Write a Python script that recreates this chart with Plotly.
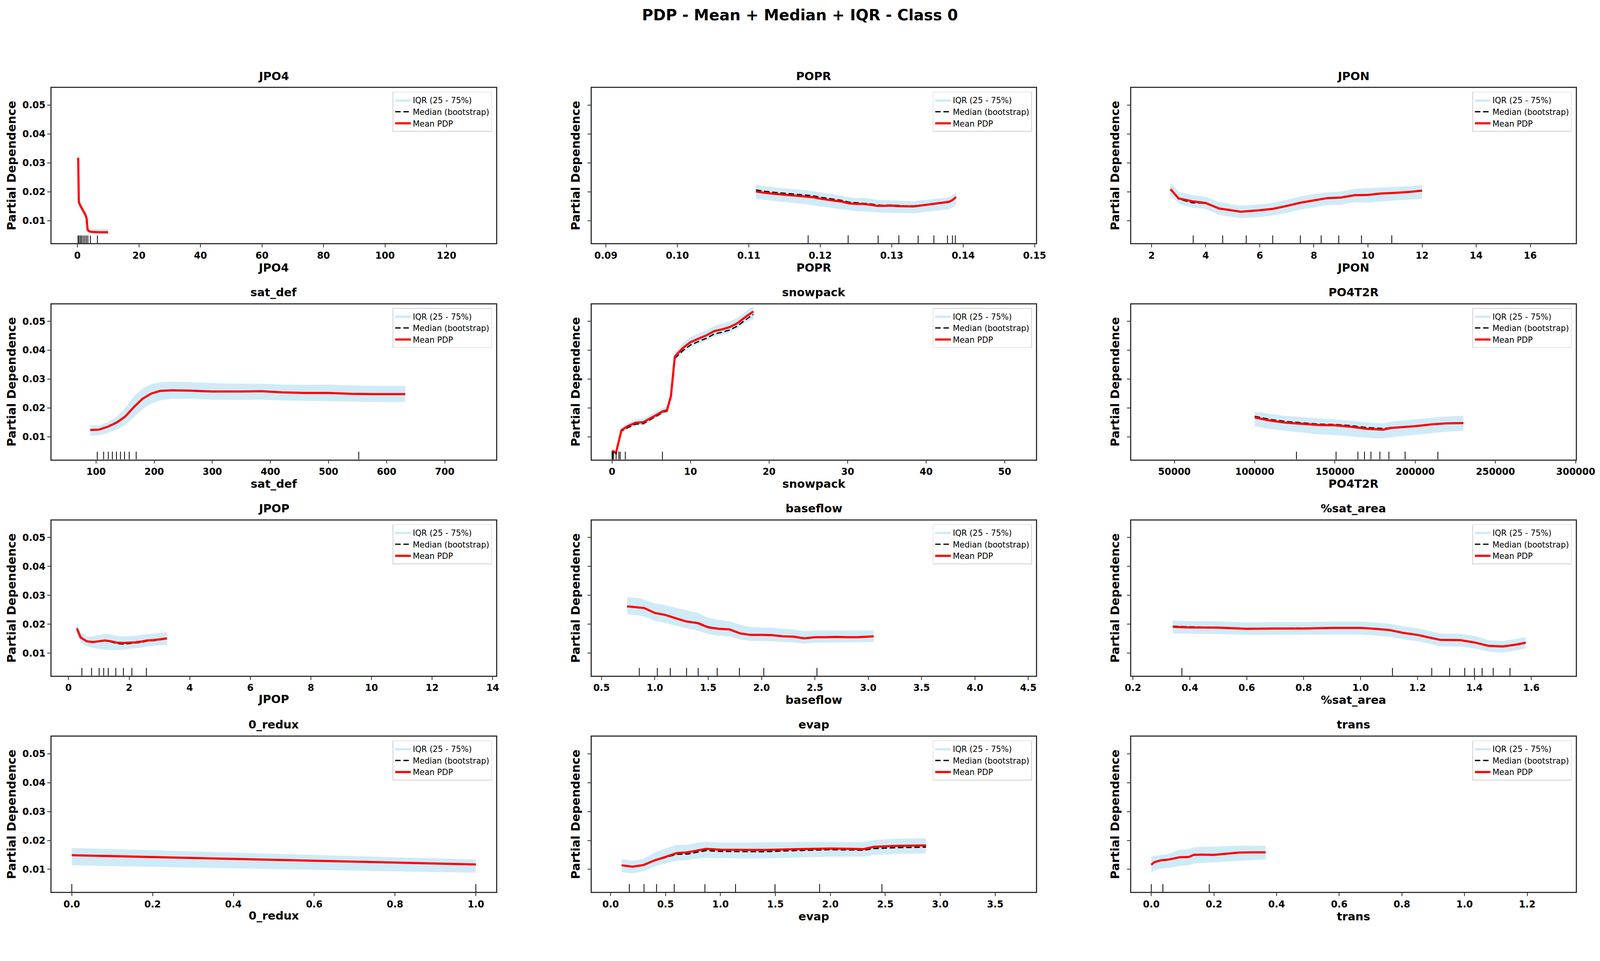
import plotly.graph_objects as go

W, H = 4219, 2459

# ---------------- data ----------------
FEATURES = ["JPO4", "POPR", "JPON", "sat_def", "snowpack", "PO4T2R",
            "JPOP", "baseflow", "%sat_area", "0_redux", "evap", "trans"]

JPO4_x = [0.25, 0.45, 0.8, 1.3, 1.8, 2.3, 2.7, 3.0, 3.3, 3.7, 4.2, 5, 6, 7, 8, 9, 10]
JPO4_mean = [0.0318, 0.0167, 0.0155, 0.0146, 0.0137, 0.0127, 0.0118, 0.0107, 0.0069, 0.0064, 0.0062, 0.0061, 0.0060, 0.0060, 0.0060, 0.0060, 0.0060]
JPO4_median = [0.0316, 0.0166, 0.0154, 0.0145, 0.0136, 0.0126, 0.0117, 0.0106, 0.0068, 0.0063, 0.0061, 0.0060, 0.0060, 0.0060, 0.0060, 0.0060, 0.0060]
JPO4_q75 = [0.0345, 0.0180, 0.0165, 0.0155, 0.0146, 0.0136, 0.0127, 0.0116, 0.0077, 0.0073, 0.0072, 0.0071, 0.0071, 0.0071, 0.0071, 0.0071, 0.0071]
JPO4_q25 = [0.0300, 0.0155, 0.0145, 0.0136, 0.0127, 0.0117, 0.0108, 0.0097, 0.0060, 0.0055, 0.0053, 0.0052, 0.0052, 0.0052, 0.0052, 0.0052, 0.0052]
JPO4_rug = [0.2, 0.55, 1.0, 1.4, 1.9, 2.4, 2.9, 3.4, 4.2, 6.5]

POPR_x = [0.111, 0.112, 0.1135, 0.115, 0.1165, 0.118, 0.119, 0.120, 0.121, 0.122, 0.123, 0.124, 0.125, 0.126, 0.127, 0.128, 0.129, 0.130, 0.131, 0.132, 0.133, 0.134, 0.135, 0.136, 0.137, 0.138, 0.1385, 0.139]
POPR_mean = [0.0201, 0.0197, 0.0193, 0.0190, 0.0187, 0.0184, 0.0181, 0.0176, 0.0172, 0.0169, 0.0166, 0.0160, 0.0158, 0.0158, 0.0155, 0.0151, 0.0151, 0.0152, 0.0150, 0.0149, 0.0149, 0.0152, 0.0155, 0.0159, 0.0162, 0.0165, 0.0171, 0.0182]
POPR_median = [0.0206, 0.0202, 0.0198, 0.0195, 0.0192, 0.0189, 0.0186, 0.0181, 0.0177, 0.0174, 0.0170, 0.0164, 0.0162, 0.0161, 0.0158, 0.0154, 0.0153, 0.0154, 0.0152, 0.0151, 0.0151, 0.0153, 0.0156, 0.0160, 0.0163, 0.0166, 0.0172, 0.0182]
POPR_q75 = [0.0225, 0.0220, 0.0215, 0.0212, 0.0209, 0.0205, 0.0202, 0.0198, 0.0194, 0.0191, 0.0186, 0.0181, 0.0178, 0.0179, 0.0176, 0.0172, 0.0171, 0.0170, 0.0168, 0.0167, 0.0167, 0.0170, 0.0173, 0.0176, 0.0178, 0.0180, 0.0188, 0.0200]
POPR_q25 = [0.0176, 0.0172, 0.0168, 0.0164, 0.0160, 0.0157, 0.0153, 0.0150, 0.0146, 0.0142, 0.0139, 0.0135, 0.0133, 0.0132, 0.0130, 0.0128, 0.0127, 0.0127, 0.0126, 0.0125, 0.0125, 0.0128, 0.0131, 0.0134, 0.0137, 0.0139, 0.0145, 0.0155]
POPR_rug = [0.1183, 0.1239, 0.1281, 0.1310, 0.1337, 0.1359, 0.1378, 0.1385, 0.1389]

JPON_x = [2.7, 3.0, 3.5, 4.0, 4.5, 5.0, 5.3, 6.0, 6.5, 7.0, 7.5, 8.0, 8.5, 9.0, 9.5, 10.0, 10.5, 11.0, 11.5, 12.0]
JPON_mean = [0.0209, 0.0177, 0.0167, 0.0161, 0.0142, 0.0135, 0.0131, 0.0136, 0.0141, 0.0151, 0.0162, 0.0170, 0.0178, 0.0180, 0.0188, 0.0189, 0.0194, 0.0196, 0.0199, 0.0204]
JPON_median = [0.0209, 0.0175, 0.0162, 0.0160, 0.0142, 0.0135, 0.0131, 0.0136, 0.0141, 0.0151, 0.0162, 0.0170, 0.0178, 0.0180, 0.0188, 0.0189, 0.0194, 0.0196, 0.0199, 0.0204]
JPON_q75 = [0.0232, 0.0200, 0.0188, 0.0183, 0.0165, 0.0156, 0.0152, 0.0156, 0.0162, 0.0172, 0.0184, 0.0192, 0.0198, 0.0201, 0.0210, 0.0212, 0.0214, 0.0216, 0.0219, 0.0224]
JPON_q25 = [0.0189, 0.0158, 0.0145, 0.0140, 0.0120, 0.0112, 0.0109, 0.0112, 0.0118, 0.0127, 0.0138, 0.0146, 0.0154, 0.0155, 0.0163, 0.0162, 0.0166, 0.0170, 0.0172, 0.0176]
JPON_rug = [3.54, 4.63, 5.50, 6.48, 7.50, 8.27, 8.92, 9.76, 10.88]

sat_def_x = [90, 105, 120, 135, 150, 165, 180, 195, 210, 230, 260, 300, 350, 385, 420, 460, 500, 540, 580, 632]
sat_def_mean = [0.0124, 0.0125, 0.0135, 0.0149, 0.0170, 0.0203, 0.0232, 0.0250, 0.0259, 0.0261, 0.0260, 0.0257, 0.0257, 0.0258, 0.0254, 0.0252, 0.0252, 0.0249, 0.0248, 0.0248]
sat_def_median = [0.0124, 0.0126, 0.0136, 0.0151, 0.0171, 0.0203, 0.0232, 0.0250, 0.0259, 0.0261, 0.0260, 0.0257, 0.0257, 0.0258, 0.0254, 0.0252, 0.0252, 0.0249, 0.0248, 0.0248]
sat_def_q75 = [0.0140, 0.0140, 0.0150, 0.0168, 0.0200, 0.0240, 0.0268, 0.0282, 0.0289, 0.0291, 0.0290, 0.0286, 0.0284, 0.0284, 0.0281, 0.0280, 0.0281, 0.0278, 0.0277, 0.0277]
sat_def_q25 = [0.0104, 0.0106, 0.0113, 0.0125, 0.0140, 0.0168, 0.0196, 0.0215, 0.0226, 0.0232, 0.0232, 0.0229, 0.0228, 0.0229, 0.0226, 0.0225, 0.0224, 0.0222, 0.0221, 0.0221]
sat_def_rug = [102, 113, 121, 128, 135, 142, 149, 157, 169, 552]

snowpack_x = [0.0, 0.5, 1.2, 2.0, 3.0, 4.0, 5.0, 6.0, 6.5, 7.0, 7.5, 8.0, 9.0, 10.0, 11.0, 12.0, 13.0, 14.0, 15.0, 16.0, 17.0, 18.0]
snowpack_mean = [0.0052, 0.0044, 0.0123, 0.0137, 0.0149, 0.0151, 0.0166, 0.0180, 0.0189, 0.0192, 0.0241, 0.0378, 0.0407, 0.0428, 0.0440, 0.0451, 0.0466, 0.0472, 0.0480, 0.0494, 0.0515, 0.0534]
snowpack_median = [0.0050, 0.0043, 0.0120, 0.0132, 0.0144, 0.0146, 0.0162, 0.0177, 0.0186, 0.0189, 0.0238, 0.0372, 0.0398, 0.0418, 0.0430, 0.0441, 0.0456, 0.0462, 0.0470, 0.0484, 0.0505, 0.0524]
snowpack_q75 = [0.0060, 0.0052, 0.0133, 0.0148, 0.0160, 0.0163, 0.0178, 0.0193, 0.0201, 0.0205, 0.0255, 0.0393, 0.0424, 0.0446, 0.0458, 0.0469, 0.0484, 0.0491, 0.0499, 0.0513, 0.0534, 0.0552]
snowpack_q25 = [0.0045, 0.0037, 0.0113, 0.0126, 0.0138, 0.0140, 0.0155, 0.0168, 0.0177, 0.0180, 0.0227, 0.0362, 0.0390, 0.0410, 0.0421, 0.0432, 0.0446, 0.0452, 0.0460, 0.0474, 0.0496, 0.0506]
snowpack_rug = [0.0, 0.1, 0.17, 0.52, 0.87, 1.04, 1.69, 6.42]

PO4T2R_x = [100000, 110000, 120000, 130000, 140000, 150000, 160000, 170000, 175000, 180000, 185000, 190000, 200000, 210000, 220000, 230000]
PO4T2R_mean = [0.0167, 0.0156, 0.0149, 0.0145, 0.0141, 0.0140, 0.0135, 0.0128, 0.0126, 0.0125, 0.0131, 0.0133, 0.0137, 0.0143, 0.0147, 0.0148]
PO4T2R_median = [0.0171, 0.0160, 0.0153, 0.0148, 0.0144, 0.0143, 0.0139, 0.0132, 0.0130, 0.0129, 0.0132, 0.0134, 0.0137, 0.0143, 0.0147, 0.0148]
PO4T2R_q75 = [0.0187, 0.0180, 0.0172, 0.0168, 0.0164, 0.0161, 0.0156, 0.0150, 0.0148, 0.0147, 0.0153, 0.0156, 0.0161, 0.0166, 0.0171, 0.0173]
PO4T2R_q25 = [0.0137, 0.0127, 0.0120, 0.0114, 0.0109, 0.0106, 0.0102, 0.0097, 0.0095, 0.0095, 0.0099, 0.0102, 0.0107, 0.0113, 0.0118, 0.0121]
PO4T2R_rug = [126000, 150700, 164300, 168400, 172400, 178000, 183600, 193700, 214100]

JPOP_x = [0.28, 0.4, 0.6, 0.8, 1.0, 1.2, 1.4, 1.6, 1.8, 2.0, 2.2, 2.4, 2.6, 2.8, 3.0, 3.25]
JPOP_mean = [0.0184, 0.0154, 0.0141, 0.0138, 0.0141, 0.0144, 0.0141, 0.0136, 0.0135, 0.0136, 0.0137, 0.0140, 0.0144, 0.0145, 0.0148, 0.0151]
JPOP_median = [0.0186, 0.0153, 0.0140, 0.0138, 0.0140, 0.0143, 0.0139, 0.0133, 0.0131, 0.0133, 0.0134, 0.0137, 0.0142, 0.0143, 0.0146, 0.0150]
JPOP_q75 = [0.0206, 0.0172, 0.0157, 0.0158, 0.0163, 0.0166, 0.0165, 0.0160, 0.0158, 0.0159, 0.0160, 0.0163, 0.0166, 0.0167, 0.0170, 0.0173]
JPOP_q25 = [0.0170, 0.0135, 0.0124, 0.0118, 0.0114, 0.0112, 0.0110, 0.0110, 0.0112, 0.0114, 0.0116, 0.0119, 0.0123, 0.0125, 0.0127, 0.0128]
JPOP_rug = [0.44, 0.76, 1.01, 1.16, 1.31, 1.56, 1.81, 2.09, 2.57]

baseflow_x = [0.74, 0.85, 0.9, 1.0, 1.1, 1.2, 1.3, 1.4, 1.5, 1.6, 1.7, 1.8, 1.9, 2.0, 2.1, 2.2, 2.3, 2.4, 2.5, 2.6, 2.7, 2.8, 2.9, 3.05]
baseflow_mean = [0.0262, 0.0259, 0.0256, 0.0239, 0.0232, 0.0220, 0.0209, 0.0204, 0.0189, 0.0184, 0.0182, 0.0168, 0.0163, 0.0163, 0.0162, 0.0158, 0.0157, 0.0151, 0.0155, 0.0155, 0.0156, 0.0155, 0.0155, 0.0158]
baseflow_median = [0.0262, 0.0259, 0.0256, 0.0239, 0.0232, 0.0220, 0.0209, 0.0206, 0.0191, 0.0185, 0.0182, 0.0168, 0.0163, 0.0163, 0.0162, 0.0158, 0.0157, 0.0151, 0.0155, 0.0155, 0.0156, 0.0155, 0.0155, 0.0158]
baseflow_q75 = [0.0293, 0.0290, 0.0285, 0.0272, 0.0266, 0.0256, 0.0248, 0.0240, 0.0222, 0.0215, 0.0210, 0.0198, 0.0190, 0.0189, 0.0188, 0.0184, 0.0182, 0.0176, 0.0178, 0.0178, 0.0178, 0.0178, 0.0178, 0.0178]
baseflow_q25 = [0.0234, 0.0230, 0.0226, 0.0212, 0.0204, 0.0194, 0.0185, 0.0178, 0.0166, 0.0160, 0.0158, 0.0147, 0.0142, 0.0142, 0.0141, 0.0138, 0.0137, 0.0133, 0.0136, 0.0136, 0.0137, 0.0137, 0.0137, 0.0138]
baseflow_rug = [0.854, 1.023, 1.144, 1.297, 1.406, 1.584, 1.792, 2.021, 2.519]

sat_area_x = [0.34, 0.4, 0.5, 0.6, 0.7, 0.8, 0.9, 1.0, 1.05, 1.1, 1.15, 1.2, 1.25, 1.28, 1.35, 1.4, 1.45, 1.5, 1.55, 1.58]
sat_area_mean = [0.0191, 0.0189, 0.0188, 0.0184, 0.0185, 0.0185, 0.0187, 0.0187, 0.0184, 0.0180, 0.0170, 0.0163, 0.0152, 0.0146, 0.0145, 0.0137, 0.0125, 0.0123, 0.0130, 0.0136]
sat_area_median = [0.0193, 0.0191, 0.0189, 0.0185, 0.0186, 0.0186, 0.0187, 0.0187, 0.0184, 0.0180, 0.0170, 0.0162, 0.0151, 0.0146, 0.0145, 0.0137, 0.0126, 0.0124, 0.0131, 0.0137]
sat_area_q75 = [0.0213, 0.0211, 0.0210, 0.0206, 0.0207, 0.0207, 0.0209, 0.0209, 0.0206, 0.0202, 0.0193, 0.0186, 0.0175, 0.0168, 0.0167, 0.0160, 0.0145, 0.0142, 0.0150, 0.0156]
sat_area_q25 = [0.0168, 0.0167, 0.0166, 0.0163, 0.0163, 0.0163, 0.0164, 0.0164, 0.0161, 0.0157, 0.0148, 0.0141, 0.0131, 0.0124, 0.0123, 0.0116, 0.0105, 0.0102, 0.0110, 0.0116]
sat_area_rug = [0.372, 1.112, 1.250, 1.313, 1.366, 1.400, 1.427, 1.466, 1.525]

redux_x = [0.0, 1.0]
redux_mean = [0.0149, 0.0117]
redux_median = [0.0149, 0.0117]
redux_q75 = [0.0174, 0.0134]
redux_q25 = [0.0114, 0.0088]
redux_rug = [0.0, 1.0]

evap_x = [0.1, 0.2, 0.3, 0.4, 0.5, 0.6, 0.7, 0.8, 0.87, 1.0, 1.2, 1.4, 1.6, 1.8, 2.0, 2.2, 2.3, 2.4, 2.6, 2.87]
evap_mean = [0.0114, 0.0109, 0.0115, 0.0131, 0.0143, 0.0156, 0.0159, 0.0166, 0.0171, 0.0168, 0.0167, 0.0167, 0.0169, 0.0170, 0.0172, 0.0171, 0.0170, 0.0178, 0.0181, 0.0183]
evap_median = [0.0114, 0.0109, 0.0114, 0.0130, 0.0141, 0.0152, 0.0153, 0.0160, 0.0165, 0.0162, 0.0161, 0.0161, 0.0164, 0.0166, 0.0168, 0.0167, 0.0166, 0.0172, 0.0175, 0.0177]
evap_q75 = [0.0136, 0.0130, 0.0137, 0.0158, 0.0172, 0.0185, 0.0185, 0.0193, 0.0195, 0.0193, 0.0193, 0.0194, 0.0195, 0.0195, 0.0195, 0.0194, 0.0194, 0.0202, 0.0206, 0.0208]
evap_q25 = [0.0090, 0.0086, 0.0093, 0.0110, 0.0120, 0.0130, 0.0132, 0.0138, 0.0140, 0.0139, 0.0138, 0.0138, 0.0140, 0.0142, 0.0144, 0.0144, 0.0144, 0.0150, 0.0153, 0.0155]
evap_rug = [0.170, 0.304, 0.418, 0.579, 0.858, 1.137, 1.496, 1.902, 2.469]

trans_x = [0.0, 0.01, 0.03, 0.05, 0.07, 0.09, 0.12, 0.135, 0.16, 0.2, 0.24, 0.28, 0.32, 0.365]
trans_mean = [0.0116, 0.0125, 0.0131, 0.0133, 0.0137, 0.0142, 0.0143, 0.0150, 0.0151, 0.0150, 0.0154, 0.0158, 0.0159, 0.0159]
trans_median = [0.0116, 0.0125, 0.0131, 0.0133, 0.0137, 0.0142, 0.0143, 0.0150, 0.0151, 0.0150, 0.0154, 0.0158, 0.0159, 0.0159]
trans_q75 = [0.0143, 0.0146, 0.0150, 0.0152, 0.0160, 0.0168, 0.0170, 0.0176, 0.0178, 0.0178, 0.0180, 0.0182, 0.0182, 0.0181]
trans_q25 = [0.0087, 0.0097, 0.0102, 0.0104, 0.0107, 0.0112, 0.0114, 0.0120, 0.0122, 0.0124, 0.0127, 0.0130, 0.0132, 0.0134]
trans_rug = [0.0, 0.037, 0.185]

Y_TICKS = [0.01, 0.02, 0.03, 0.04, 0.05]

PANELS = [
    (JPO4_x, JPO4_mean, JPO4_median, JPO4_q25, JPO4_q75, JPO4_rug),
    (POPR_x, POPR_mean, POPR_median, POPR_q25, POPR_q75, POPR_rug),
    (JPON_x, JPON_mean, JPON_median, JPON_q25, JPON_q75, JPON_rug),
    (sat_def_x, sat_def_mean, sat_def_median, sat_def_q25, sat_def_q75, sat_def_rug),
    (snowpack_x, snowpack_mean, snowpack_median, snowpack_q25, snowpack_q75, snowpack_rug),
    (PO4T2R_x, PO4T2R_mean, PO4T2R_median, PO4T2R_q25, PO4T2R_q75, PO4T2R_rug),
    (JPOP_x, JPOP_mean, JPOP_median, JPOP_q25, JPOP_q75, JPOP_rug),
    (baseflow_x, baseflow_mean, baseflow_median, baseflow_q25, baseflow_q75, baseflow_rug),
    (sat_area_x, sat_area_mean, sat_area_median, sat_area_q25, sat_area_q75, sat_area_rug),
    (redux_x, redux_mean, redux_median, redux_q25, redux_q75, redux_rug),
    (evap_x, evap_mean, evap_median, evap_q25, evap_q75, evap_rug),
    (trans_x, trans_mean, trans_median, trans_q25, trans_q75, trans_rug),
]

# ---------------- axis styling (x ranges / tick steps) ----------------
X_RANGE = [[-8.4, 136.1], [0.0880, 0.1502], [1.25, 17.68], [23.4, 788.3],
           [-2.6, 54.0], [23100, 300000], [-0.56, 14.11], [0.407, 4.573],
           [0.194, 1.756], [-0.05, 1.05], [-0.173, 3.872], [-0.064, 1.355]]
X_DTICK = [20, 0.01, 2, 100, 10, 50000, 2, 0.5, 0.2, 0.2, 0.5, 0.2]
X_FMT = ["d", ".2f", "d", "d", "d", "d", "d", ".1f", ".1f", ".1f", ".1f", ".1f"]

FONT = "DejaVu Sans"
COL_LEFT = [136, 1560, 2983]
PW = 1172
ROW_TOP = [232, 802, 1372, 1942]
PH = 409
Y_RANGE = [0.0022, 0.0559]

fig = go.Figure()
layout = dict(
    autosize=True,
    margin=dict(l=0, r=0, t=0, b=0, pad=0),
    paper_bgcolor="white", plot_bgcolor="white",
    font=dict(family=FONT, color="black"),
    title=dict(text="PDP - Mean + Median + IQR - Class 0", x=0.5, xanchor="center",
               y=1 - 40 / H, yanchor="middle",
               font=dict(family=FONT, size=39, weight="bold", color="black")),
    showlegend=True,
)
annotations = []
shapes = []

for i, (feat, (xs, mean, med, q25, q75, rug)) in enumerate(zip(FEATURES, PANELS)):
    k = i + 1
    r, c = divmod(i, 3)
    sfx = "" if k == 1 else str(k)
    xa, ya = "x" + sfx, "y" + sfx
    lg = "legend" + sfx

    fig.add_trace(go.Scatter(x=xs, y=q75, mode="lines", line=dict(width=0, color="rgba(135,206,235,0.4)"),
                             showlegend=False, hoverinfo="skip", xaxis=xa, yaxis=ya, legend=lg))
    fig.add_trace(go.Scatter(x=xs, y=q25, mode="lines", fill="tonexty",
                             fillcolor="rgba(135,206,235,0.4)",
                             line=dict(width=0, color="rgba(135,206,235,0.4)"),
                             name="IQR (25 - 75%)", xaxis=xa, yaxis=ya, legend=lg))
    fig.add_trace(go.Scatter(x=xs, y=med, mode="lines", line=dict(color="black", width=3.2, dash="14px,7px"),
                             name="Median (bootstrap)", xaxis=xa, yaxis=ya, legend=lg))
    fig.add_trace(go.Scatter(x=xs, y=mean, mode="lines", line=dict(color="red", width=5.5),
                             name="Mean PDP", xaxis=xa, yaxis=ya, legend=lg))

    for v in rug:
        shapes.append(dict(type="line", xref=xa, yref=ya + " domain", x0=v, x1=v, y0=0, y1=0.05,
                           line=dict(color="black", width=2)))

    x0 = COL_LEFT[c] / W
    x1 = (COL_LEFT[c] + PW) / W
    y1 = 1 - ROW_TOP[r] / H
    y0 = 1 - (ROW_TOP[r] + PH) / H

    axis_common = dict(showline=True, mirror=True, linecolor="#333333", linewidth=2.5,
                       ticks="outside", ticklen=8, tickwidth=2, tickcolor="#333333",
                       showgrid=False, zeroline=False, automargin=False,
                       tickfont=dict(family=FONT, size=24, weight="bold", color="black"))
    layout["xaxis" + sfx] = dict(domain=[x0, x1], anchor=ya, range=X_RANGE[i],
                                 tick0=0, dtick=X_DTICK[i], tickformat=X_FMT[i],
                                 title=dict(text=feat, standoff=6,
                                            font=dict(family=FONT, size=29, weight="bold", color="black")),
                                 **axis_common)
    layout["yaxis" + sfx] = dict(domain=[y0, y1], anchor=xa, range=Y_RANGE,
                                 tickvals=Y_TICKS, tickformat=".2f",
                                 showticklabels=(c == 0),
                                 title=dict(text="Partial Dependence", standoff=(8 if c == 0 else 11),
                                            font=dict(family=FONT, size=30, weight="bold", color="black")),
                                 **axis_common)
    layout[lg] = dict(x=(COL_LEFT[c] + PW - 11) / W, xanchor="right",
                      y=1 - (ROW_TOP[r] + 10) / H, yanchor="top",
                      bgcolor="rgba(255,255,255,0.85)", bordercolor="#d0d0d0", borderwidth=1.5,
                      font=dict(family=FONT, size=20.5, color="black"), itemwidth=40,
                      traceorder="normal")
    annotations.append(dict(text=feat, xref="paper", yref="paper",
                            x=(x0 + x1) / 2, y=y1 + 12 / H, xanchor="center", yanchor="bottom",
                            showarrow=False,
                            font=dict(family=FONT, size=29, weight="bold", color="black")))

layout["annotations"] = annotations
layout["shapes"] = shapes
fig.update_layout(**layout)

POST = ("document.documentElement.style.margin='0';document.body.style.margin='0';"
        "document.body.style.overflow='hidden';"
        "var gd=document.getElementById('{plot_id}');"
        "var w=document.documentElement.clientWidth||window.innerWidth;"
        "Plotly.relayout(gd,{width:w,height:Math.round(w*2459/4219)});")

fig.write_html("out.html", config={"responsive": False, "displayModeBar": False},
               default_width="100vw", default_height="100vh", post_script=POST)
